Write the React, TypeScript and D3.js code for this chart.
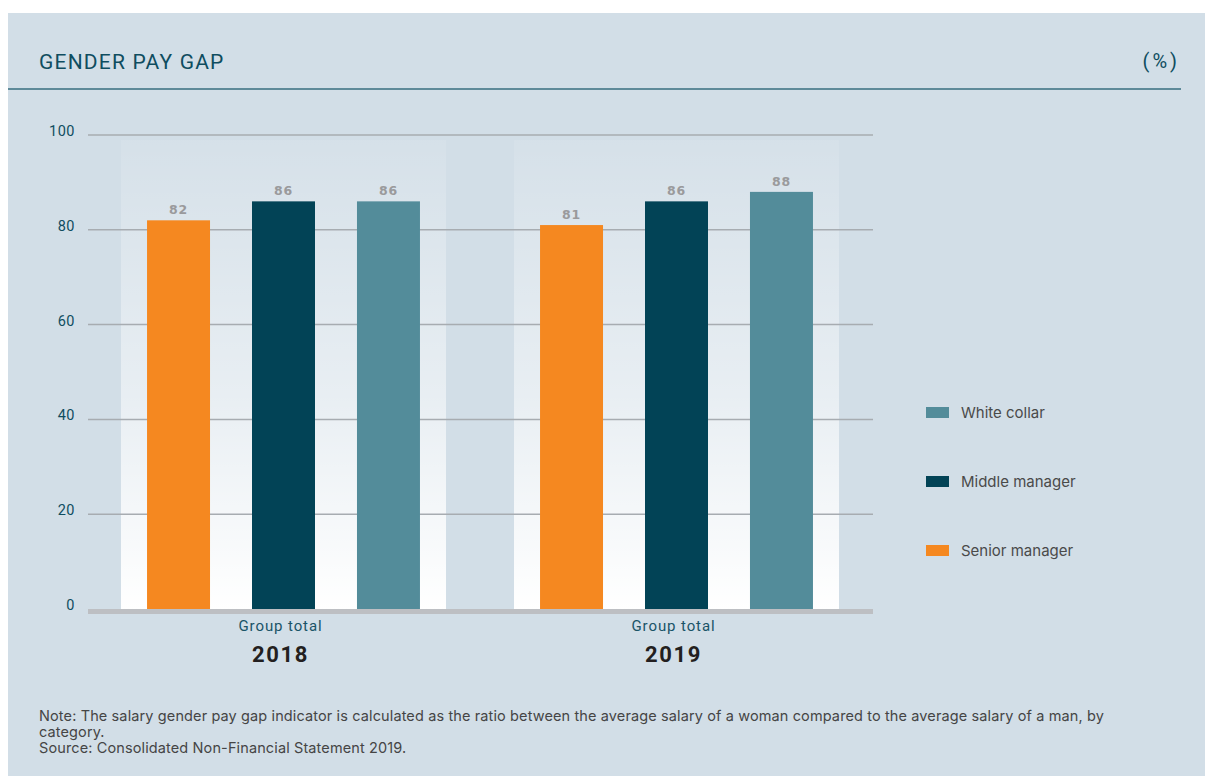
import React from "react";
import * as d3 from "d3";

const years = ["2018", "2019"];
const groupLabel = "Group total";
const series = ["Senior manager", "Middle manager", "White collar"];
const seniorManager = [82, 81];
const middleManager = [86, 86];
const whiteCollar = [86, 88];
const yTicks = [0, 20, 40, 60, 80, 100];
const legendOrder = ["White collar", "Middle manager", "Senior manager"];
const noteLines = [
  "Note: The salary gender pay gap indicator is calculated as the ratio between the average salary of a woman compared to the average salary of a man, by",
  "category.",
  "Source: Consolidated Non-Financial Statement 2019.",
];

const colors: Record<string, string> = {
  "Senior manager": "#F58820",
  "Middle manager": "#024356",
  "White collar": "#538C9A",
};

const seriesValues: Record<string, number[]> = {
  "Senior manager": seniorManager,
  "Middle manager": middleManager,
  "White collar": whiteCollar,
};

export default function App() {
  const W = 1205;
  const H = 776;
  const x0 = d3.scaleBand<string>().domain(years).range([121, 839]).paddingInner(68 / 393).paddingOuter(0);
  const x1 = d3
    .scaleBand<string>()
    .domain(series)
    .range([0, x0.bandwidth()])
    .paddingInner(0.4)
    .paddingOuter(0.248);
  const y = d3.scaleLinear().domain([0, 100]).range([609, 135]);
  const gridX0 = 88;
  const gridX1 = 873;
  const teal = "#0F4D60";
  const legendY = d3.scalePoint<string>().domain(legendOrder).range([413, 551]);

  return (
    <div style={{ position: "fixed", left: 0, top: 0, width: W, height: H, overflow: "hidden", background: "#fff" }}>
      <svg width={W} height={H} style={{ display: "block" }}>
        <defs>
          <linearGradient id="bandGrad" x1="0" y1="0" x2="0" y2="1">
            <stop offset="0%" stopColor="#ffffff" stopOpacity={0.08} />
            <stop offset="55%" stopColor="#ffffff" stopOpacity={0.5} />
            <stop offset="100%" stopColor="#ffffff" stopOpacity={1} />
          </linearGradient>
        </defs>
        <rect x={0} y={0} width={W} height={H} fill="#ffffff" />
        <rect x={8} y={13} width={W - 8} height={H - 13} fill="#D2DEE7" />

        {/* Title */}
        <text x={39} y={69} fontFamily="Roboto, sans-serif" fontSize={21} fill={teal} letterSpacing={1.2}>
          GENDER PAY GAP
        </text>
        <text x={1180} y={68} textAnchor="end" fontFamily="Roboto, sans-serif" fontSize={20} fill={teal} letterSpacing={3}>
          (%)
        </text>
        <line x1={8} x2={1181} y1={89} y2={89} stroke="#5E8A99" strokeWidth={2} />

        {/* group backgrounds */}
        {years.map((yr) => (
          <rect key={"bg" + yr} x={x0(yr)} y={140} width={x0.bandwidth()} height={609 - 140} fill="url(#bandGrad)" />
        ))}

        {/* gridlines */}
        {yTicks
          .filter((t) => t > 0)
          .map((t) => (
            <line key={"g" + t} x1={gridX0} x2={gridX1} y1={y(t)} y2={y(t)} stroke="#A7ACB1" strokeWidth={1.5} />
          ))}

        {/* y tick labels */}
        {yTicks.map((t) => (
          <text
            key={"t" + t}
            x={75}
            y={y(t) + 1}
            textAnchor="end"
            fontFamily="Roboto, sans-serif"
            fontSize={14.5}
            fill={teal}
            letterSpacing={0.5}
          >
            {t}
          </text>
        ))}

        {/* bars */}
        {years.map((yr, i) => (
          <g key={"grp" + yr} transform={`translate(${x0(yr)},0)`}>
            {series.map((s) => {
              const v = seriesValues[s][i];
              const bx = x1(s)!;
              return (
                <g key={s}>
                  <rect x={bx} y={y(v)} width={x1.bandwidth()} height={y(0) - y(v)} fill={colors[s]} />
                  <text
                    x={bx + x1.bandwidth() / 2}
                    y={y(v) - 6}
                    textAnchor="middle"
                    fontFamily="'DejaVu Sans', sans-serif"
                    fontWeight="bold"
                    fontSize={12.5}
                    fill="#9A9A9C"
                    letterSpacing={0.8}
                  >
                    {v}
                  </text>
                </g>
              );
            })}
          </g>
        ))}

        {/* baseline */}
        <rect x={gridX0} y={y(0)} width={gridX1 - gridX0} height={5} fill="#BDBFC3" />

        {/* x labels */}
        {years.map((yr) => {
          const cx = x0(yr)! + x1("Senior manager")! + (x1("White collar")! + x1.bandwidth() - x1("Senior manager")!) / 2;
          return (
            <g key={"xl" + yr}>
              <text x={cx - 3} y={631} textAnchor="middle" fontFamily="Roboto, sans-serif" fontSize={15} fill="#1A5467" letterSpacing={0.9}>
                {groupLabel}
              </text>
              <text x={cx - 3} y={662} textAnchor="middle" fontFamily="Roboto, sans-serif" fontWeight="bold" fontSize={22} fill="#231F20" letterSpacing={1.6}>
                {yr}
              </text>
            </g>
          );
        })}

        {/* legend */}
        {legendOrder.map((s) => (
          <g key={"lg" + s} transform={`translate(926,${legendY(s)})`}>
            <rect x={0} y={-6} width={23} height={11} fill={colors[s]} />
            <text x={35} y={5} fontFamily="Inter, sans-serif" fontSize={15} fill="#4A4A4A">
              {s}
            </text>
          </g>
        ))}

        {/* notes */}
        {noteLines.map((l, i) => (
          <text key={"n" + i} x={39} y={721 + i * 16} fontFamily="Inter, sans-serif" fontSize={14.5} fill="#454545" letterSpacing={0.12}>
            {l}
          </text>
        ))}
      </svg>
    </div>
  );
}
